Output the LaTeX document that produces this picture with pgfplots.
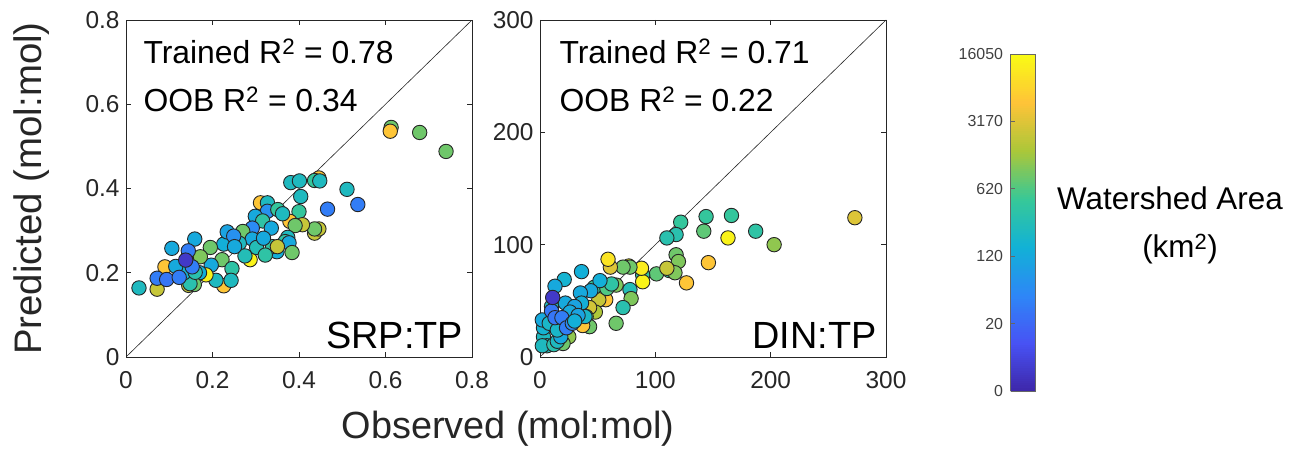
\documentclass[border=0pt]{standalone}
\usepackage{pgfplots}
\usepackage{pgfplotstable}
\pgfplotsset{compat=1.18}
\usepackage{fontspec}
\setmainfont{Liberation Sans}

% parula-like colour map
\pgfplotsset{
  colormap={parula}{rgb=(0.2422,0.1504,0.6603) rgb=(0.2810,0.3228,0.9579)
    rgb=(0.1786,0.5289,0.9682) rgb=(0.0689,0.6948,0.8394) rgb=(0.2161,0.7843,0.5923)
    rgb=(0.6720,0.7793,0.2227) rgb=(0.9970,0.7659,0.2199) rgb=(0.9769,0.9839,0.0805)},
  panel/.style={
    scale only axis, width=346bp, height=337bp,
    tick align=inside, major tick length=5bp,
    axis line style={black!85, line width=0.6bp},
    every tick/.style={black!85, line width=0.6bp},
    ticklabel style={font=\fontsize{24.5}{28}\selectfont, text=black!85},
    xticklabel style={yshift=-11bp},
    yticklabel style={xshift=-3bp},
    colormap name=parula, point meta min=0, point meta max=5,
  },
  sites/.style={scatter, only marks, scatter src=explicit, mark=*,
    mark size=7.2bp, line width=0.9bp,
    scatter/use mapped color={draw=black!85, fill=mapped color}},
  oneone/.style={black!85, line width=0.6bp, no markers, forget plot},
}

% observed, predicted, colour index (log watershed area)
\pgfplotstableread{
x y c
0.613 0.545 3.2
0.611 0.536 4.3
0.679 0.533 3.2
0.740 0.488 3.2
0.511 0.398 2.4
0.536 0.362 1.3
0.466 0.351 1.3
0.446 0.425 4.3
0.436 0.419 2.8
0.448 0.418 2.4
0.381 0.414 2.4
0.401 0.418 2.4
0.404 0.381 2.4
0.400 0.345 2.8
0.436 0.294 3.8
0.446 0.304 3.8
0.436 0.304 3.2
0.379 0.322 4.3
0.408 0.314 3.8
0.391 0.312 3.2
0.374 0.284 2.4
0.368 0.274 2.7
0.377 0.271 2.0
0.384 0.248 3.2
0.311 0.366 4.3
0.327 0.366 2.4
0.327 0.346 1.6
0.351 0.350 2.8
0.362 0.340 2.4
0.299 0.334 2.0
0.316 0.323 2.7
0.336 0.306 2.0
0.349 0.250 2.1
0.339 0.262 2.7
0.350 0.262 3.8
0.292 0.306 1.5
0.270 0.298 3.2
0.287 0.231 4.9
0.292 0.280 2.0
0.302 0.260 2.5
0.318 0.282 2.0
0.322 0.242 2.7
0.262 0.270 2.4
0.275 0.240 2.5
0.226 0.268 2.1
0.234 0.297 1.9
0.249 0.287 1.6
0.251 0.262 2.0
0.222 0.231 3.2
0.245 0.210 2.7
0.226 0.169 4.3
0.243 0.182 2.4
0.208 0.182 2.4
0.195 0.260 3.2
0.197 0.218 2.0
0.185 0.195 4.9
0.172 0.238 3.3
0.170 0.200 2.1
0.145 0.170 3.8
0.158 0.172 3.2
0.148 0.174 2.6
0.134 0.200 2.2
0.160 0.201 2.6
0.159 0.280 2.0
0.106 0.258 2.0
0.090 0.214 4.3
0.115 0.215 2.0
0.144 0.252 1.3
0.153 0.214 1.3
0.138 0.230 0.3
0.030 0.164 2.4
0.072 0.161 3.8
0.072 0.187 1.3
0.094 0.184 1.2
0.123 0.189 1.3
}\srptp

\pgfplotstableread{
x y c
273 124 4.0
203 100 3.4
187 112 2.7
166 126 2.8
163 106 4.9
144 125 2.8
142 112 3.1
146 84 4.3
127 66 4.3
122 120 2.8
118 109 2.6
110 106 2.6
118 91 3.2
120 85 3.3
112 77 2.8
101 74 3.1
117 75 3.3
110 79 3.8
89 73 2.8
89 67 4.9
88 79 4.8
77 81 4.9
78 80 3.2
72 80 3.2
61 80 4.0
59 87 4.7
66 64 3.3
57 51 4.3
51 51 3.8
78 60 2.5
79 52 3.3
72 44 2.6
66 30 3.2
47 62 2.8
58 61 3.0
62 65 2.7
48 40 3.6
43 44 3.9
52 68 2.1
44 59 2.0
36 76 2.1
21 69 2.2
35 57 2.0
36 48 2.1
13 63 2.0
10 45 2.4
22 48 2.0
40 36 3.2
43 27 3.2
37 28 4.3
25 18 3.4
20 12 3.2
3 18 2.4
6 10 2.5
2 10 2.4
12 11 2.6
15 14 2.4
3 26 2.2
2 33 2.0
8 30 2.3
30 45 1.9
26 40 2.0
39 36 2.3
33 37 1.9
18 18 2.0
15 24 2.3
10 41 1.2
13 35 1.2
19 35 1.3
23 26 1.3
28 30 1.5
30 32 2.1
11 53 0.3
}\dintp

\begin{document}
\begin{tikzpicture}
\path[use as bounding box] (0,0) rectangle (1296bp,450bp);

% SRP:TP panel
\begin{axis}[panel,
  at={(126bp,93bp)}, anchor=south west,
  xmin=0, xmax=0.8, ymin=0, ymax=0.8,
  xtick={0,0.2,0.4,0.6,0.8}, xticklabels={0,0.2,0.4,0.6,0.8},
  ytick={0,0.2,0.4,0.6,0.8}, yticklabels={0,0.2,0.4,0.6,0.8},
  xlabel={Observed (mol:mol)},
  xlabel style={at={(axis description cs:1.104,-0.243)}, anchor=base,
    font=\fontsize{38}{44}\selectfont, text=black!85},
  ylabel={Predicted (mol:mol)},
  ylabel style={at={(axis description cs:-0.2456,0.5)}, anchor=base,
    font=\fontsize{38.5}{44}\selectfont, text=black!85},
]
\addplot[sites] table[x=x, y=y, meta=c] {\srptp};
\addplot[oneone] coordinates {(0,0) (0.8,0.8)};
\node[anchor=base west, inner sep=0, font=\fontsize{32}{38}\selectfont]
  at (rel axis cs:0.050,0.8715) {Trained R\textsuperscript{2} = 0.78};
\node[anchor=base west, inner sep=0, font=\fontsize{32}{38}\selectfont]
  at (rel axis cs:0.050,0.728) {OOB R\textsuperscript{2} = 0.34};
\node[anchor=base east, inner sep=0, font=\fontsize{38}{44}\selectfont]
  at (rel axis cs:0.975,0.026) {SRP:TP};
\end{axis}

% DIN:TP panel with the shared colour bar
\begin{axis}[panel,
  at={(540bp,93bp)}, anchor=south west,
  xmin=0, xmax=300, ymin=0, ymax=300,
  xtick={0,100,200,300}, xticklabels={0,100,200,300},
  ytick={0,100,200,300}, yticklabels={0,100,200,300},
  colorbar sampled,
  colorbar style={
    samples=160,
    scale only axis, width=25bp, height=337bp,
    at={(parent axis.south east)}, anchor=south west,
    xshift=116bp, yshift=-34bp,
    ytick={0,1,2,3,4,5}, yticklabels={0,20,120,620,3170,16050},
    yticklabel pos=left, ytick pos=left, ytick align=inside,
    major tick length=4bp,
    axis line style={black!60, line width=0.6bp},
    every tick/.style={black!60, line width=0.6bp},
    yticklabel style={font=\fontsize{16}{19}\selectfont, text=black!75, xshift=-4bp},
  },
]
\addplot[sites] table[x=x, y=y, meta=c] {\dintp};
\addplot[oneone] coordinates {(0,0) (300,300)};
\node[anchor=base west, inner sep=0, font=\fontsize{32}{38}\selectfont]
  at (rel axis cs:0.056,0.8715) {Trained R\textsuperscript{2} = 0.71};
\node[anchor=base west, inner sep=0, font=\fontsize{32}{38}\selectfont]
  at (rel axis cs:0.056,0.728) {OOB R\textsuperscript{2} = 0.22};
\node[anchor=base east, inner sep=0, font=\fontsize{38}{44}\selectfont]
  at (rel axis cs:0.973,0.026) {DIN:TP};
\end{axis}

% colour bar title
\node[anchor=base, inner sep=0, font=\fontsize{31.5}{36}\selectfont] at (1170bp,240bp) {Watershed Area};
\node[anchor=base, inner sep=0, font=\fontsize{31.5}{36}\selectfont] at (1180bp,192bp) {(km\textsuperscript{2})};
\end{tikzpicture}
\end{document}
